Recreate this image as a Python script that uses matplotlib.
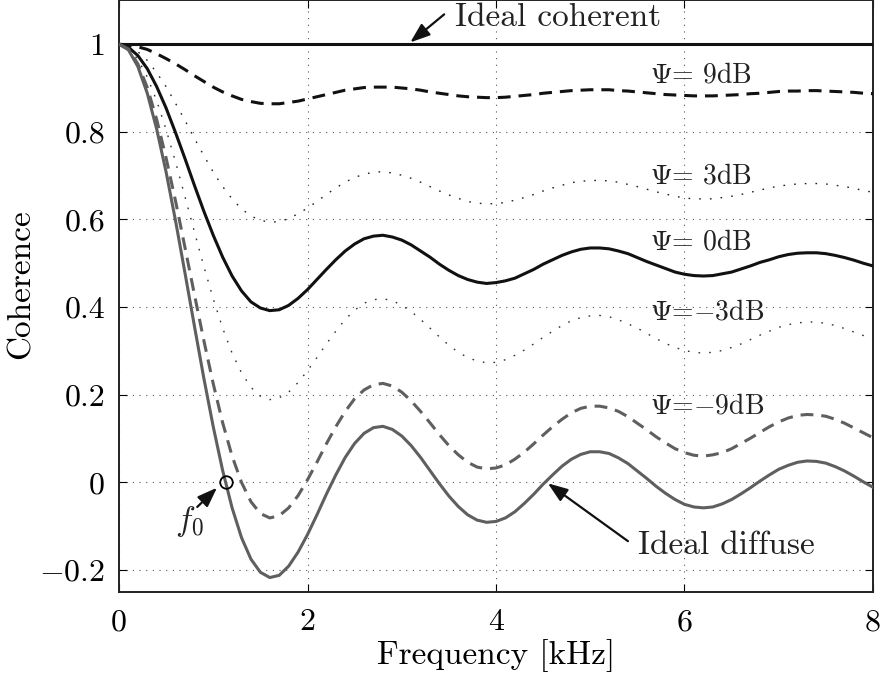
import numpy as np
import matplotlib
matplotlib.use("Agg")
import matplotlib.pyplot as plt

plt.rcParams["font.family"] = ["cmr10", "DejaVu Serif"]
plt.rcParams["mathtext.fontset"] = "cm"
plt.rcParams["axes.formatter.use_mathtext"] = True
plt.rcParams["axes.unicode_minus"] = True

# Frequency axis (kHz)
freq_khz = [i / 10 for i in range(81)]

# Coherence values (x1000)
ideal_diffuse = [1000, 987, 949, 888, 806, 708, 597, 478, 357, 238,
                 127, 27, -58, -126, -175, -205, -217, -212, -191, -159,
                 -119, -74, -27, 17, 57, 89, 112, 125, 128, 121,
                 106, 84, 57, 27, -3, -31, -55, -74, -86, -91,
                 -89, -81, -67, -48, -27, -4, 17, 37, 53, 64,
                 70, 70, 66, 56, 43, 26, 9, -9, -25, -39,
                 -50, -56, -58, -56, -49, -39, -26, -12, 3, 17,
                 30, 39, 46, 49, 48, 44, 36, 26, 14, 1, -11]
psi_9db = [1000, 998, 994, 988, 978, 967, 955, 942, 928, 915,
           902, 891, 882, 874, 869, 865, 864, 864, 867, 870,
           875, 880, 885, 890, 895, 898, 901, 902, 902, 902,
           900, 898, 895, 891, 888, 885, 882, 880, 879, 878,
           878, 879, 881, 883, 885, 888, 890, 892, 894, 895,
           896, 896, 896, 894, 893, 891, 889, 887, 885, 884,
           883, 882, 882, 882, 883, 884, 885, 887, 888, 890,
           892, 893, 893, 894, 894, 893, 892, 891, 890, 888, 887]
psi_3db = [1000, 996, 983, 963, 935, 903, 865, 826, 785, 746,
           708, 675, 647, 624, 608, 598, 594, 595, 602, 613,
           626, 641, 657, 672, 685, 696, 703, 708, 709, 706,
           701, 694, 685, 675, 665, 656, 648, 641, 637, 636,
           636, 639, 644, 650, 657, 665, 672, 678, 684, 687,
           689, 689, 688, 685, 680, 675, 669, 663, 658, 653,
           649, 647, 647, 647, 650, 653, 657, 662, 667, 672,
           676, 679, 681, 682, 682, 681, 678, 675, 671, 666, 662]
psi_0db = [1000, 993, 974, 944, 903, 854, 798, 739, 678, 619,
           564, 514, 471, 437, 412, 398, 392, 394, 404, 420,
           440, 463, 486, 508, 528, 544, 556, 562, 564, 560,
           553, 542, 528, 514, 498, 484, 472, 463, 457, 454,
           456, 460, 466, 476, 486, 498, 508, 518, 526, 532,
           535, 535, 533, 528, 522, 513, 504, 496, 488, 480,
           475, 472, 471, 472, 476, 480, 487, 494, 502, 508,
           515, 520, 523, 524, 524, 522, 518, 513, 507, 500, 494]
psi_m3db = [1000, 991, 966, 925, 871, 805, 731, 652, 572, 493,
            419, 352, 295, 250, 217, 197, 189, 193, 206, 228,
            255, 285, 316, 345, 372, 393, 409, 417, 419, 415,
            404, 390, 372, 352, 332, 313, 297, 285, 277, 273,
            274, 280, 290, 302, 316, 331, 345, 358, 369, 376,
            380, 381, 378, 371, 362, 352, 340, 328, 317, 308,
            301, 297, 295, 297, 301, 308, 316, 326, 336, 345,
            354, 360, 364, 366, 366, 363, 358, 351, 343, 335, 326]
psi_m9db = [1000, 989, 955, 901, 828, 740, 642, 536, 429, 324,
            225, 136, 60, 0, -44, -71, -81, -76, -58, -30,
            6, 46, 88, 127, 162, 191, 211, 223, 226, 220,
            206, 186, 162, 136, 109, 84, 63, 46, 35, 31,
            33, 40, 53, 69, 88, 108, 127, 144, 159, 169,
            174, 174, 170, 162, 150, 135, 120, 104, 90, 77,
            68, 62, 60, 63, 68, 77, 89, 101, 114, 127,
            138, 147, 153, 155, 154, 151, 144, 135, 124, 113, 102]
ideal_coherent = [1000] * 81

f0_khz = 1.13

x_ticks = [0, 2, 4, 6, 8]
y_ticks = [-0.2, 0, 0.2, 0.4, 0.6, 0.8, 1.0]
y_tick_labels = [r"$-$0.2", "0", "0.2", "0.4", "0.6", "0.8", "1"]
psi_labels = [r"$\Psi$= 9dB", r"$\Psi$= 3dB", r"$\Psi$= 0dB", r"$\Psi$=$-$3dB", r"$\Psi$=$-$9dB"]
psi_label_y = [0.93, 0.698, 0.548, 0.389, 0.173]

def arr(v):
    return np.asarray(v, dtype=float) / 1000.0

fig = plt.figure(figsize=(8.84, 6.77), dpi=100)
ax = fig.add_axes([119 / 884, 85 / 677, (873 - 119) / 884, 592 / 677 - 0.0005])

gray = "#5f5f5f"
lw = 2.2
ax.plot(freq_khz, arr(ideal_coherent), color="#111111", lw=lw, solid_capstyle="butt", zorder=5)
ax.plot(freq_khz, arr(psi_9db), color="#111111", lw=lw, dashes=(4.2, 2.6), zorder=5)
ax.plot(freq_khz, arr(psi_3db), color="#222222", lw=1.0, dashes=(1.2, 6.5), zorder=5)
ax.plot(freq_khz, arr(psi_0db), color="#111111", lw=lw, zorder=5)
ax.plot(freq_khz, arr(psi_m3db), color="#333333", lw=1.0, dashes=(1.2, 6.5), zorder=5)
ax.plot(freq_khz, arr(psi_m9db), color=gray, lw=lw, dashes=(4.2, 2.6), zorder=5)
ax.plot(freq_khz, arr(ideal_diffuse), color=gray, lw=lw, zorder=5)

ax.plot([f0_khz], [0], marker="o", ms=9, mfc="none", mec="black", mew=1.3, zorder=6)

ax.set_xlim(0, 8)
ax.set_ylim(-0.25, 1.1)
ax.set_xticks(x_ticks)
ax.set_xticklabels([str(t) for t in x_ticks])
ax.set_yticks(y_ticks)
ax.set_yticklabels(y_tick_labels)
ax.tick_params(direction="in", length=6, width=0.8, labelsize=23, top=True, right=True)
ax.tick_params(axis="x", pad=12)
ax.tick_params(axis="y", pad=10)
ax.grid(True, color="#555555", lw=0.8, dashes=(1, 5))
for sp in ax.spines.values():
    sp.set_linewidth(1.4)
    sp.set_color("#222222")

ax.set_xlabel("Frequency [kHz]", fontsize=24)
ax.xaxis.set_label_coords(0.5, -0.08)
ax.set_ylabel("Coherence", fontsize=24)
ax.yaxis.set_label_coords(-0.11, 0.52)

arrow = dict(arrowstyle="-|>,head_length=0.6,head_width=0.22", color="#111111",
             lw=1.6, shrinkA=0, shrinkB=0, mutation_scale=20)
txt = dict(fontsize=24, color="#222222")

ax.text(3.565, 1.06, "Ideal coherent", ha="left", va="center", **txt)
ax.annotate("", xy=(3.09, 1.004), xytext=(3.45, 1.068), arrowprops=arrow)

ax.text(5.51, -0.145, "Ideal diffuse", ha="left", va="center", **txt)
ax.annotate("", xy=(4.55, -0.002), xytext=(5.40, -0.134), arrowprops=arrow)

ax.text(0.75, -0.09, r"$f_0$", ha="center", va="center", fontsize=24, color="#222222")
ax.annotate("", xy=(1.04, -0.012), xytext=(0.83, -0.056), arrowprops=arrow)

for lbl, yv in zip(psi_labels, psi_label_y):
    ax.text(5.63, yv, lbl, fontsize=20, color="#222222", ha="left", va="center")

fig.savefig("out.png", dpi=100)
